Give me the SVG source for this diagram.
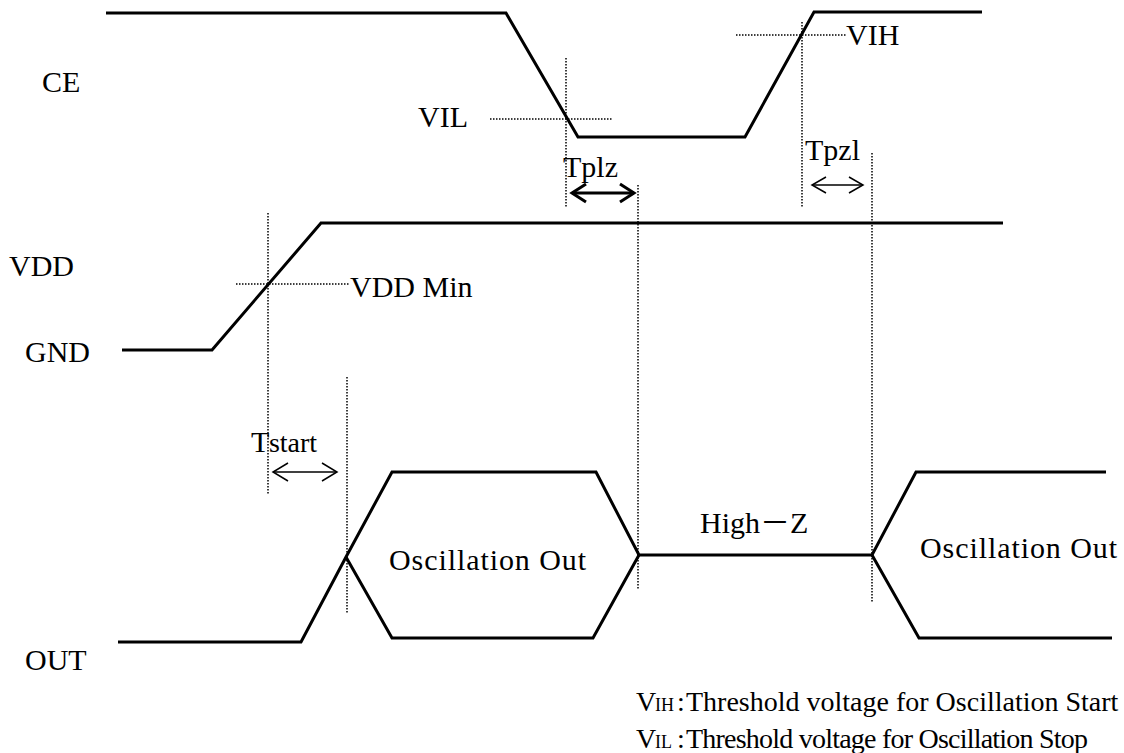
<svg xmlns="http://www.w3.org/2000/svg" width="1124" height="753" viewBox="0 0 1124 753">
<style>
.sig{fill:none;stroke:#000;stroke-width:3;stroke-linejoin:miter}
.dot{fill:none;stroke:#000;stroke-width:1.5;stroke-dasharray:1.5 1.5}
.t{font-family:"Liberation Serif","Noto Sans CJK JP",serif;font-size:30px;fill:#000}
.l{font-family:"Liberation Serif",serif;font-size:28px;fill:#000}
.sub{font-family:"Liberation Serif",serif;font-size:18px;fill:#000}
.arr{fill:none;stroke:#000;stroke-width:1.5}
</style>
<rect width="1124" height="753" fill="#fff"/>
<g id="ce">
<polyline class="sig" points="106,13 506,13 578,137 745,137 814,12 982,12"/>
<text class="t" x="42" y="92">CE</text>
</g>
<g id="vdd">
<polyline class="sig" points="122,350 212,350 321,223 1003,223"/>
<text class="t" x="9" y="276">VDD</text>
<text class="t" x="25" y="362">GND</text>
</g>
<g id="out">
<polyline class="sig" points="118,642 301,642 346,557 392,472 596,472 639,555 872,555 916,472 1106,472"/>
<polyline class="sig" points="346,557 392,638 593,638 639,555"/>
<polyline class="sig" points="872,555 919,638 1112,638"/>
<text class="t" x="25" y="670">OUT</text>
<text class="t" x="389" y="570" textLength="197">Oscillation Out</text>
<text class="t" x="700" y="533">High－Z</text>
<text class="t" x="920" y="558" textLength="197">Oscillation Out</text>
</g>
<g id="thresholds">
<line class="dot" x1="490" y1="119" x2="612" y2="119"/>
<text class="t" x="418" y="127">VIL</text>
<line class="dot" x1="736" y1="35" x2="846" y2="35"/>
<text class="t" x="846" y="45">VIH</text>
<line class="dot" x1="236" y1="284" x2="350" y2="284"/>
<text class="t" x="350" y="297">VDD Min</text>
</g>
<g id="connectors">
<line class="dot" x1="566" y1="58" x2="566" y2="208"/>
<line class="dot" x1="802" y1="22" x2="802" y2="208"/>
<line class="dot" x1="638" y1="185" x2="638" y2="590"/>
<line class="dot" x1="872" y1="153" x2="872" y2="603"/>
<line class="dot" x1="268" y1="213" x2="268" y2="495"/>
<line class="dot" x1="347" y1="377" x2="347" y2="614"/>
<g stroke="#000" stroke-width="3" fill="none">
<line x1="572" y1="193" x2="634" y2="193"/>
<polyline points="586,184 572,193 586,202"/>
<polyline points="620,184 634,193 620,202"/>
</g>
<g class="arr">
<line x1="812" y1="185" x2="863" y2="185"/>
<polyline points="826,177 812,185 826,193"/>
<polyline points="849,177 863,185 849,193"/>
</g>
<g class="arr" stroke="#333">
<line x1="273" y1="472" x2="337" y2="472"/>
<polyline points="288,463 273,472 288,481"/>
<polyline points="322,463 337,472 322,481"/>
</g>
</g>
<g id="timing-labels">
<text class="t" x="563" y="177">Tplz</text>
<text class="t" x="805" y="160">Tpzl</text>
<text class="t" x="251" y="452">T</text>
<text class="l" x="269" y="452" font-size="22" textLength="48">start</text>
</g>
<g id="legend">
<text class="l" x="636" y="711">V</text>
<text class="sub" x="655" y="711">IH</text>
<text class="l" x="677" y="711">:</text>
<text class="l" x="686" y="711">Threshold voltage for Oscillation Start</text>
<text class="l" x="636" y="748">V</text>
<text class="sub" x="655" y="748">IL</text>
<text class="l" x="677" y="748">:</text>
<text class="l" x="686" y="748" textLength="402">Threshold voltage for Oscillation Stop</text>
</g>
</svg>
